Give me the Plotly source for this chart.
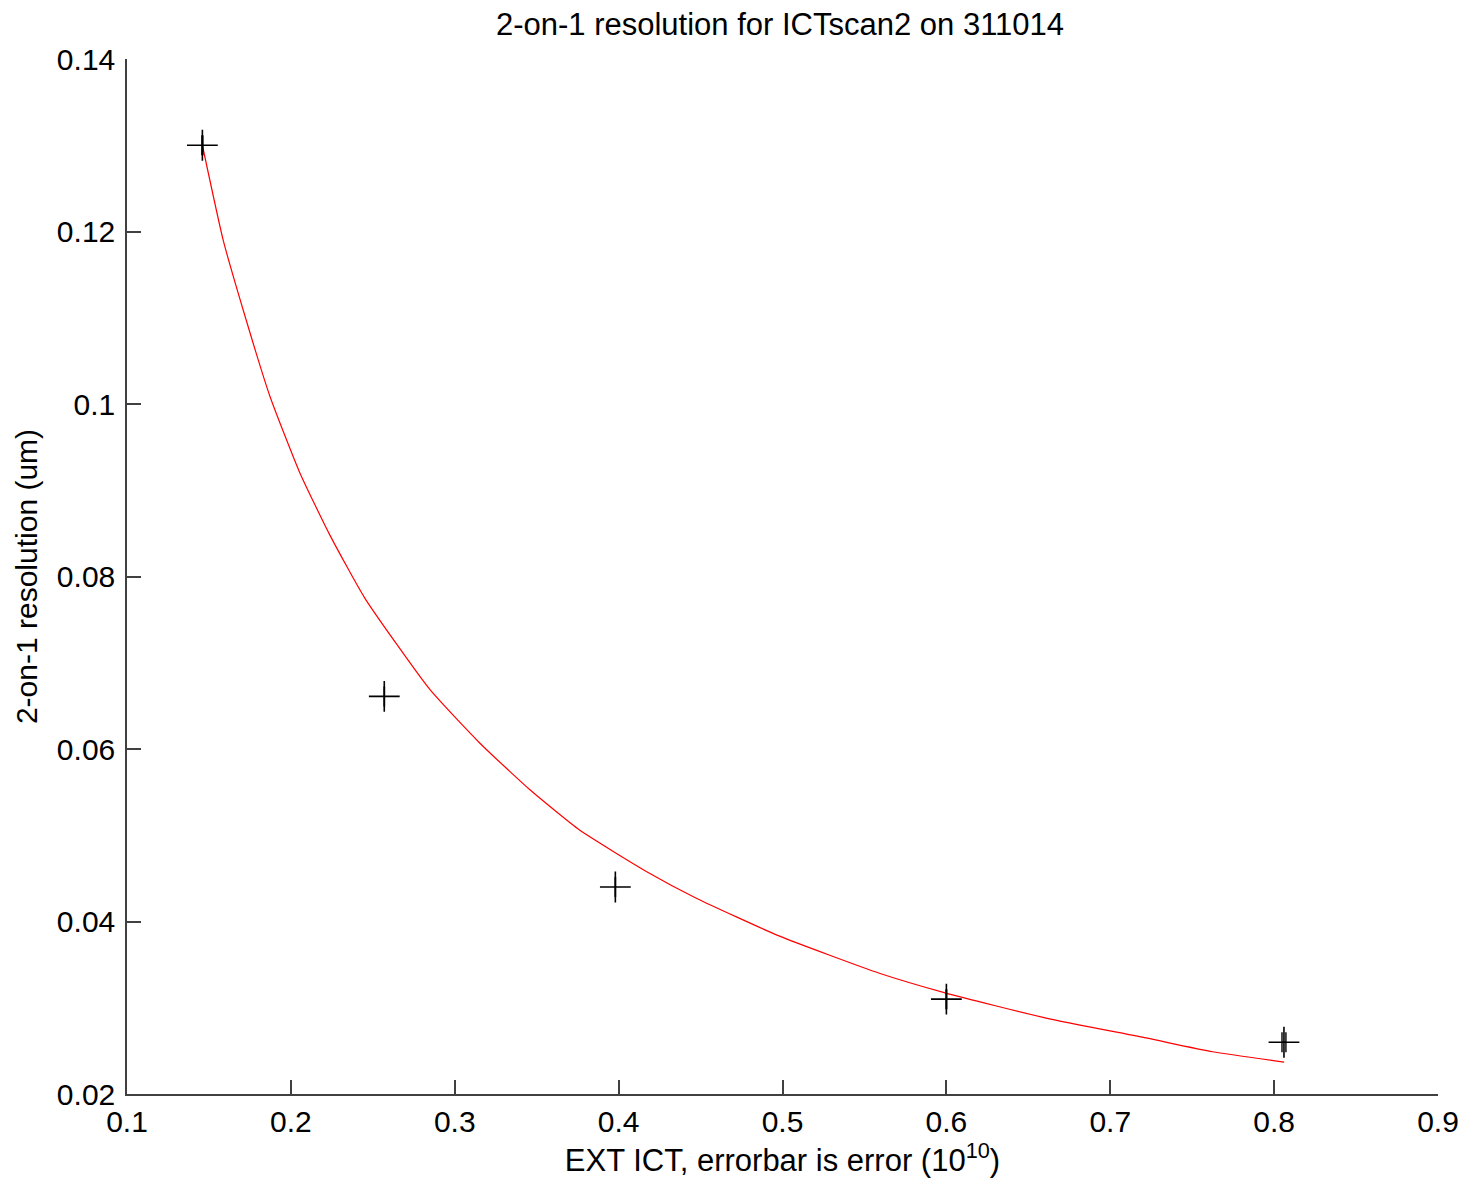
import plotly.graph_objects as go

# measured points
pt_x = [0.146, 0.257, 0.398, 0.600, 0.806]
pt_y = [0.1300, 0.0661, 0.0440, 0.0310, 0.0260]
pt_xerr = [0.0003, 0.0001, 0.0001, 0.0002, 0.0012]

# fitted curve
fit_x = [0.146, 0.1587, 0.1709, 0.1872, 0.2055, 0.2238, 0.2451, 0.2848,
         0.3152, 0.3457, 0.3762, 0.4169, 0.4474, 0.4982, 0.5591, 0.5998, 0.6608,
         0.7218, 0.7624, 0.8061]
fit_y = [0.1300, 0.1190, 0.1109, 0.1009, 0.0920, 0.0848, 0.0775, 0.0669,
         0.0607, 0.0553, 0.0506, 0.0458, 0.0427, 0.0383, 0.0340, 0.0317, 0.0288,
         0.0265, 0.0249, 0.0237]

x_ticks = [0.1, 0.2, 0.3, 0.4, 0.5, 0.6, 0.7, 0.8, 0.9]
x_ticktext = ["0.1", "0.2", "0.3", "0.4", "0.5", "0.6", "0.7", "0.8", "0.9"]
y_ticks = [0.02, 0.04, 0.06, 0.08, 0.10, 0.12, 0.14]
y_ticktext = ["0.02", "0.04", "0.06", "0.08", "0.1", "0.12", "0.14"]

FONT = "Liberation Sans, Arial, sans-serif"
AX = "#404040"

fig = go.Figure()
fig.add_trace(go.Scatter(
    x=fit_x, y=fit_y, mode="lines",
    line=dict(color="#ff0000", width=1.2, shape="spline", smoothing=0.5),
    showlegend=False, hoverinfo="skip"))
fig.add_trace(go.Scatter(
    x=pt_x, y=pt_y, mode="markers",
    marker=dict(symbol="cross-thin", size=22, line=dict(color="black", width=1.6)),
    error_x=dict(type="data", array=pt_xerr, visible=True, color="black", thickness=1.4, width=10),
    showlegend=False))

fig.update_layout(
    width=1472, height=1189,
    margin=dict(l=127, r=34, t=59, b=95),
    plot_bgcolor="white", paper_bgcolor="white",
    font=dict(family=FONT, color="black", size=30),
    title=dict(text="2-on-1 resolution for ICTscan2 on 311014", x=0.5299, xanchor="center",
               y=0.980, yanchor="middle", font=dict(size=31, family=FONT, color="black")),
    xaxis=dict(range=[0.1, 0.9], tickvals=x_ticks, ticktext=x_ticktext,
               showline=True, linecolor=AX, linewidth=1.5, ticks="inside", ticklen=14,
               tickcolor=AX, tickwidth=1.5, showgrid=False, zeroline=False,
               tickfont=dict(size=30), ticklabelstandoff=0,
               title=dict(text="EXT ICT, errorbar is error (10<sup>10</sup>)",
                          font=dict(size=31), standoff=11)),
    yaxis=dict(range=[0.02, 0.14], tickvals=y_ticks, ticktext=y_ticktext,
               showline=True, linecolor=AX, linewidth=1.5, ticks="inside", ticklen=14,
               tickcolor=AX, tickwidth=1.5, showgrid=False, zeroline=False,
               tickfont=dict(size=30), ticklabelstandoff=4,
               title=dict(text="2-on-1 resolution (um)", font=dict(size=30), standoff=10)),
)

fig.write_html("out.html")
